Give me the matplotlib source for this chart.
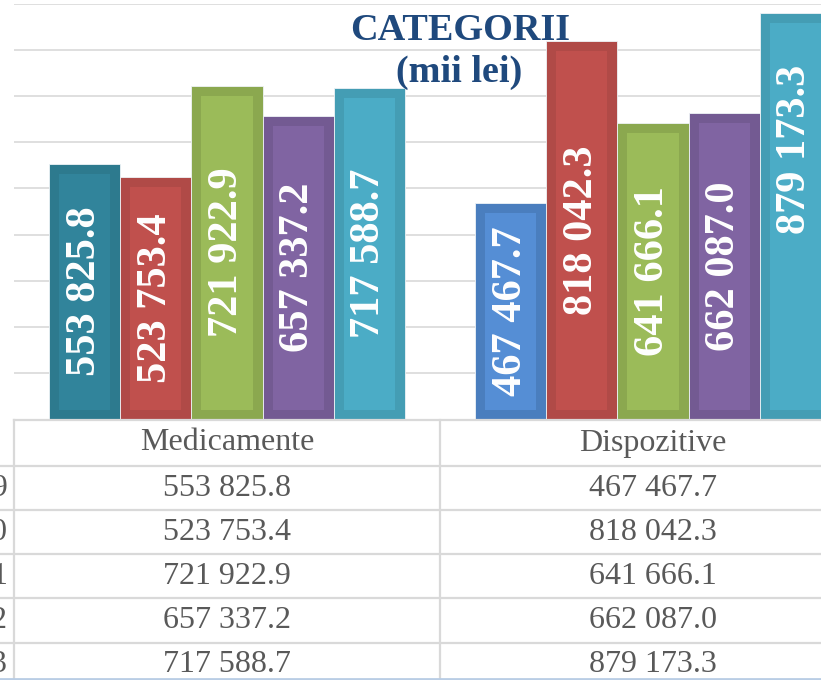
"""Grouped bar chart (CATEGORII, mii lei) with an Excel-style data table below."""

import matplotlib
matplotlib.use("Agg")
import matplotlib.pyplot as plt
from matplotlib.transforms import blended_transform_factory

# --- data -------------------------------------------------------------------
categories = ["Medicamente", "Dispozitive"]
years = ["2019", "2020", "2021", "2022", "2023"]
medicamente = [553825.8, 523753.4, 721922.9, 657337.2, 717588.7]
dispozitive = [467467.7, 818042.3, 641666.1, 662087.0, 879173.3]
value_labels_med = ["553 825.8", "523 753.4", "721 922.9", "657 337.2", "717 588.7"]
value_labels_dis = ["467 467.7", "818 042.3", "641 666.1", "662 087.0", "879 173.3"]

# --- style ------------------------------------------------------------------
W, H = 821, 680
SERIF = ["Liberation Serif", "DejaVu Serif"]
# (outer, inner) colours per bar; first bar of each group differs in the source
COLORS_MED = [("#2d7a8e", "#31849b"), ("#b04a47", "#c0504d"), ("#8ba84f", "#9bbb59"),
              ("#735a92", "#8064a2"), ("#449db4", "#4bacc6")]
COLORS_DIS = [("#4a7ebe", "#558ed5")] + COLORS_MED[1:]
GRID = "#d9d9d9"
TEXT = "#595959"
TITLE = "#1f497d"

# layout in pixels of the output image
AX_LEFT, CAT_W = 14, 426          # category column width
AX_TOP, AX_BOTTOM = 3.5, 419.5    # 900 000 at top, 0 at bottom
YMAX = 900000
BAR_W = 0.1667                    # fraction of a category
INSET = 10                        # px, lighter inner panel inset
ROW_LINES = [466, 510, 554, 598, 643, 687]
TABLE_TOP = 420


def fy(px):
    """pixel row (from top) -> figure fraction"""
    return 1 - px / H


fig = plt.figure(figsize=(W / 100, H / 100), dpi=100)
ax = fig.add_axes([AX_LEFT / W, fy(AX_BOTTOM), 2 * CAT_W / W, (AX_BOTTOM - AX_TOP) / H])
ax.set_xlim(0, 2)
ax.set_ylim(0, YMAX)
for s in ax.spines.values():
    s.set_visible(False)
ax.set_xticks([])
ax.set_yticks(range(0, YMAX + 1, 100000))
ax.tick_params(left=False, labelleft=False)
ax.yaxis.grid(True, color=GRID, lw=1.2, zorder=0)
ax.set_axisbelow(True)

px_x = 1 / CAT_W                              # data units per px (x)
px_y = YMAX / (AX_BOTTOM - AX_TOP)            # data units per px (y)

groups = [(medicamente, value_labels_med, COLORS_MED),
          (dispozitive, value_labels_dis, COLORS_DIS)]
for g, (vals, labs, cols) in enumerate(groups):
    start = g + (1 - 5 * BAR_W) / 2
    for i, (v, lab, (outer, inner)) in enumerate(zip(vals, labs, cols)):
        x = start + (i + 0.5) * BAR_W
        ax.bar(x, v, width=BAR_W, color=outer, edgecolor="#eef3f6", lw=0.6, zorder=2)
        ax.bar(x, v - 2 * INSET * px_y, bottom=INSET * px_y,
               width=BAR_W - 2 * INSET * px_x, color=inner, lw=0, zorder=3)
        # the last label in the source sits higher than the bar centre
        shift = 67 if (g == 1 and i == 4) else 0
        ax.annotate(lab, (x, v / 2), xytext=(0, shift), textcoords="offset pixels",
                    rotation=90, ha="center", va="center", color="white",
                    fontsize=30.5, fontweight="bold", family=SERIF, zorder=4)

# title
fig.text(460 / W, fy(40), "CATEGORII", ha="center", va="baseline", color=TITLE,
         fontsize=27.5, fontweight="bold", family=SERIF)
fig.text(459 / W, fy(82), "(mii lei)", ha="center", va="baseline", color=TITLE,
         fontsize=27.5, fontweight="bold", family=SERIF)

# --- data table -------------------------------------------------------------
tr = blended_transform_factory(ax.transData, fig.transFigure)
fig.add_artist(plt.Line2D([0, 2], [fy(TABLE_TOP)] * 2, transform=tr, color=GRID, lw=1.6))
for y in ROW_LINES:
    fig.add_artist(plt.Line2D([0, 1], [fy(y)] * 2, color=GRID, lw=1.6))
for xd in (0, 1, 2):
    fig.add_artist(plt.Line2D([xd, xd], [fy(TABLE_TOP), 0], transform=tr, color=GRID, lw=1.6))
fig.add_artist(plt.Line2D([0, 1], [fy(679)] * 2, color="#b9cde5", lw=2))

header_y = (TABLE_TOP + ROW_LINES[0]) / 2
for c, name in enumerate(categories):
    fig.text(c + 0.5, fy(header_y), name, transform=tr, ha="center", va="center",
             color=TEXT, fontsize=23, family=SERIF)

for r, year in enumerate(years):
    yc = (ROW_LINES[r] + ROW_LINES[r + 1]) / 2
    # row labels sit just off the left edge, as in the cropped source
    fig.text(8 / W, fy(yc), year, ha="right", va="center", color=TEXT,
             fontsize=23, family=SERIF)
    for c, labs in enumerate((value_labels_med, value_labels_dis)):
        fig.text(c + 0.5, fy(yc), labs[r], transform=tr, ha="center", va="center",
                 color=TEXT, fontsize=23, family=SERIF)

fig.savefig("out.png", dpi=100)
